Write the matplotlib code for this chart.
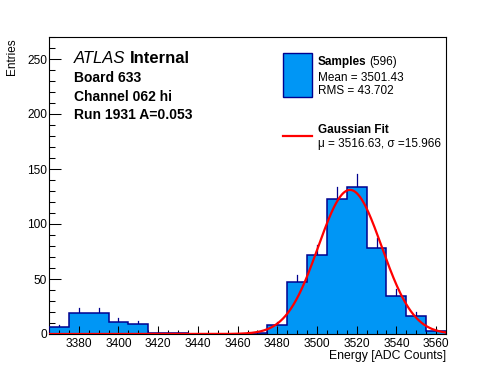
import numpy as np
import matplotlib
matplotlib.use('Agg')
import matplotlib.pyplot as plt
from matplotlib.patches import Rectangle
from matplotlib.lines import Line2D
from matplotlib.ticker import MultipleLocator

plt.rcParams['font.family'] = ['Liberation Sans', 'DejaVu Sans']

# ---- data ----
bin_edges = [3365, 3375, 3385, 3395, 3405, 3415, 3425, 3435, 3445, 3455, 3465,
             3475, 3485, 3495, 3505, 3515, 3525, 3535, 3545, 3555, 3565]
counts = [6, 19, 19, 11, 9, 1, 1, 0, 0, 0, 1, 8, 47, 72, 123, 134, 78, 35, 16, 3]
n_entries = 596
mean_val = "3501.43"
rms_val = "43.702"
fit_amp = 131.0
fit_mu = 3516.63
fit_sigma = 15.966
x_major_ticks = [3380, 3400, 3420, 3440, 3460, 3480, 3500, 3520, 3540, 3560]
y_major_ticks = [0, 50, 100, 150, 200, 250]

W, H = 496, 372
fig = plt.figure(figsize=(W / 100, H / 100), dpi=100)

def fx(px):
    return px / W

def fy(py):
    return 1 - py / H

ax_l, ax_r, ax_t, ax_b = 49, 446, 37, 334
ax = fig.add_axes([fx(ax_l), fy(ax_b), (ax_r - ax_l) / W, (ax_b - ax_t) / H])

fill_c = '#0096f5'
edge_c = '#00008f'

edges = np.array(bin_edges, dtype=float)
cnt = np.array(counts, dtype=float)
centers = 0.5 * (edges[:-1] + edges[1:])

# error bars (upper part visible)
for c, n in zip(centers, cnt):
    if n > 0:
        ax.plot([c, c], [n - np.sqrt(n), n + np.sqrt(n)], color=edge_c, lw=0.9, zorder=1)

ax.stairs(cnt, edges, fill=True, color=fill_c, zorder=2)
ax.stairs(cnt, edges, fill=False, color=edge_c, lw=1.1, zorder=3)

# gaussian fit
xs = np.linspace(edges[0], edges[-1], 600)
ys = fit_amp * np.exp(-0.5 * ((xs - fit_mu) / fit_sigma) ** 2)
ax.plot(xs, ys, color='#ff0000', lw=1.6, zorder=5, clip_on=True)

ax.set_xlim(edges[0], edges[-1])
ax.set_ylim(0, 270)
ax.set_xticks(x_major_ticks)
ax.set_yticks(y_major_ticks)
ax.xaxis.set_minor_locator(MultipleLocator(5))
ax.yaxis.set_minor_locator(MultipleLocator(10))
ax.tick_params(axis='x', which='major', direction='in', length=6.0, width=0.75,
               labelsize=8.6, pad=3.0, top=False, zorder=6)
ax.tick_params(axis='x', which='minor', direction='in', length=3.0, width=0.75, top=False)
ax.tick_params(axis='y', which='major', direction='in', length=8.8, width=0.75,
               labelsize=8.6, pad=1.5, right=False)
ax.tick_params(axis='y', which='minor', direction='in', length=4.2, width=0.75, right=False)
for sp in ax.spines.values():
    sp.set_linewidth(0.8)
ax.set_axisbelow(False)

# axis titles
fig.text(fx(446), fy(358.5), "Energy [ADC Counts]", ha='right', va='baseline', fontsize=8.8)
fig.text(fx(12), fy(38), "Entries", ha='center', va='top', rotation=90, fontsize=8.5)

# ATLAS label
fig.text(fx(74), fy(63), "ATLAS", ha='left', va='baseline', fontsize=12, style='italic')
fig.text(fx(130), fy(63), "Internal", ha='left', va='baseline', fontsize=12, weight='bold')
fig.text(fx(74), fy(81.5), "Board 633", ha='left', va='baseline', fontsize=10, weight='bold')
fig.text(fx(74), fy(100.7), "Channel 062 hi", ha='left', va='baseline', fontsize=10, weight='bold')
fig.text(fx(74), fy(119.3), "Run 1931 A=0.053", ha='left', va='baseline', fontsize=10, weight='bold')

# legend
fig.add_artist(Rectangle((fx(283.3), fy(96.7)), (311.7 - 283.3) / W, (96.7 - 53.3) / H,
                         facecolor=fill_c, edgecolor=edge_c, lw=1.0, transform=fig.transFigure))
fig.text(fx(317.7), fy(65.5), "Samples", ha='left', va='baseline', fontsize=8.5, weight='bold')
fig.text(fx(369.5), fy(65.5), "(%d)" % n_entries, ha='left', va='baseline', fontsize=8.5)
fig.text(fx(317.7), fy(81), "Mean = " + mean_val, ha='left', va='baseline', fontsize=8.5)
fig.text(fx(317.7), fy(94.5), "RMS = " + rms_val, ha='left', va='baseline', fontsize=8.5)
fig.add_artist(Line2D([fx(283.3), fx(311.7)], [fy(136), fy(136)], color='#ff0000', lw=1.6,
                      transform=fig.transFigure))
fig.text(fx(317.7), fy(133), "Gaussian Fit", ha='left', va='baseline', fontsize=8.5, weight='bold')
fig.text(fx(317.7), fy(146.5), "\u03bc = %.2f, \u03c3 =%.3f" % (fit_mu, fit_sigma),
         ha='left', va='baseline', fontsize=8.5)

fig.savefig('out.png', dpi=100)
